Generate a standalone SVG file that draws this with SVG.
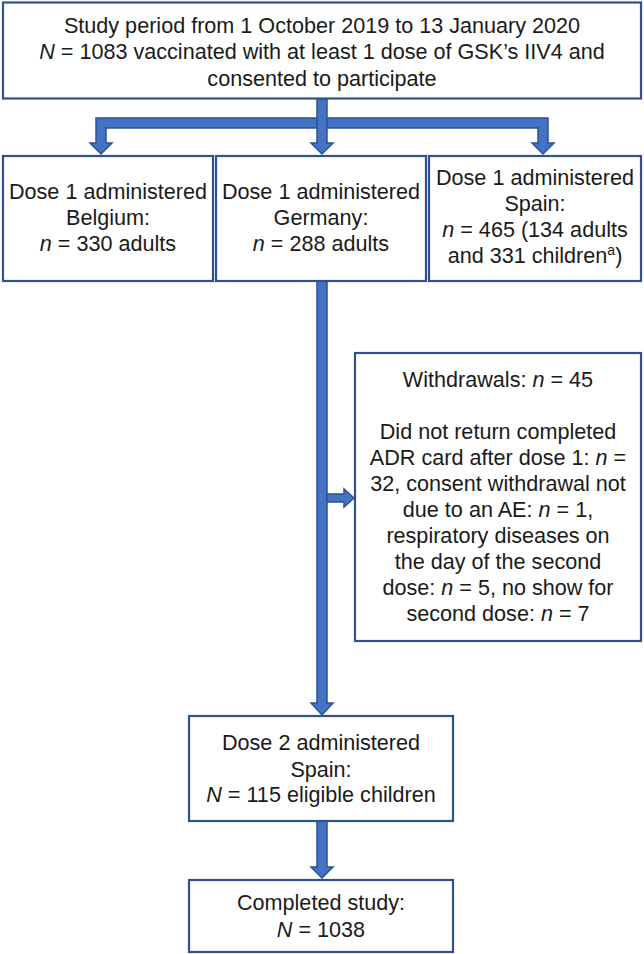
<svg xmlns="http://www.w3.org/2000/svg" width="644" height="954" viewBox="0 0 644 954">
<style>
.box{fill:#fff;stroke:#2F528F;stroke-width:2.2}
.t{font-family:"Liberation Sans",Arial,sans-serif;font-size:21.6px;fill:#1a1a1a;text-anchor:middle}
.i{font-style:italic}
.arr{fill:#4472C4;stroke:#2F528F;stroke-width:1.5;stroke-linejoin:miter}
</style>
<rect width="644" height="954" fill="#fff"/>
<g id="connectors">
  <path class="arr" d="M322,118 L96,118 L96,143 L90,143 L101,154 L112,143 L106,143 L106,128 L322,128 Z"/>
  <path class="arr" d="M322,118 L548,118 L548,143 L554,143 L543,154 L532,143 L538,143 L538,128 L322,128 Z"/>
  <path class="arr" d="M317,99 L327,99 L327,143 L333,143 L322,154 L311,143 L317,143 Z"/>
  <path class="arr" d="M317,281 L327,281 L327,703 L333,703 L322,715 L311,703 L317,703 Z"/>
  <path class="arr" d="M327,494 L344,494 L344,489 L354,498 L344,507 L344,502 L327,502 Z"/>
  <path class="arr" d="M317,821 L327,821 L327,867 L333,867 L322,878 L311,867 L317,867 Z"/>
</g>
<g id="start">
  <rect class="box" x="3" y="2.5" width="638" height="96"/>
  <text class="t" x="322" y="33">Study period from 1 October 2019 to 13 January 2020</text>
  <text class="t" x="322" y="59"><tspan class="i">N</tspan> = 1083 vaccinated with at least 1 dose of GSK’s IIV4 and</text>
  <text class="t" x="322" y="85.5">consented to participate</text>
</g>
<g id="belgium">
  <rect class="box" x="3" y="156" width="210" height="125"/>
  <text class="t" x="108" y="199">Dose 1 administered</text>
  <text class="t" x="108" y="225">Belgium:</text>
  <text class="t" x="108" y="251"><tspan class="i">n</tspan> = 330 adults</text>
</g>
<g id="germany">
  <rect class="box" x="216" y="156" width="210" height="125"/>
  <text class="t" x="321" y="199">Dose 1 administered</text>
  <text class="t" x="321" y="225">Germany:</text>
  <text class="t" x="321" y="251"><tspan class="i">n</tspan> = 288 adults</text>
</g>
<g id="spain">
  <rect class="box" x="429" y="156" width="212" height="125"/>
  <text class="t" x="535" y="185">Dose 1 administered</text>
  <text class="t" x="535" y="211">Spain:</text>
  <text class="t" x="535" y="237"><tspan class="i">n</tspan> = 465 (134 adults</text>
  <text class="t" x="535" y="263">and 331 children<tspan font-size="14" dy="-8">a</tspan><tspan dy="8">)</tspan></text>
</g>
<g id="withdrawals">
  <rect class="box" x="355" y="353" width="286" height="288"/>
  <text class="t" x="498" y="387">Withdrawals: <tspan class="i">n</tspan> = 45</text>
  <text class="t" x="498" y="439">Did not return completed</text>
  <text class="t" x="498" y="465">ADR card after dose 1: <tspan class="i">n</tspan> =</text>
  <text class="t" x="498" y="491">32, consent withdrawal not</text>
  <text class="t" x="498" y="517">due to an AE: <tspan class="i">n</tspan> = 1,</text>
  <text class="t" x="498" y="543">respiratory diseases on</text>
  <text class="t" x="498" y="569">the day of the second</text>
  <text class="t" x="498" y="595">dose: <tspan class="i">n</tspan> = 5, no show for</text>
  <text class="t" x="498" y="621">second dose: <tspan class="i">n</tspan> = 7</text>
</g>
<g id="dose2">
  <rect class="box" x="189" y="716" width="264" height="105"/>
  <text class="t" x="321" y="750">Dose 2 administered</text>
  <text class="t" x="321" y="777">Spain:</text>
  <text class="t" x="321" y="802"><tspan class="i">N</tspan> = 115 eligible children</text>
</g>
<g id="completed">
  <rect class="box" x="189" y="880" width="264" height="72"/>
  <text class="t" x="321" y="910">Completed study:</text>
  <text class="t" x="321" y="937"><tspan class="i">N</tspan> = 1038</text>
</g>
</svg>
